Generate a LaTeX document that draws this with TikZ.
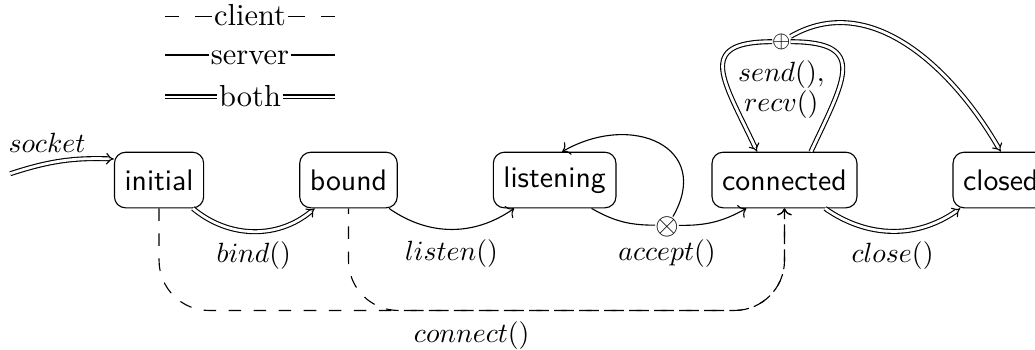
\documentclass[tikz,border=0pt,11pt]{standalone}
\usetikzlibrary{positioning,calc,arrows.meta}
\tikzset{
  state/.style={rectangle,rounded corners=4pt,draw,
                font=\fontsize{10.7}{13}\selectfont\sffamily,
                minimum height=20pt},
  junction/.style={inner sep=0pt,outer sep=0pt},
  lbl/.style={font=\small},
  legtext/.style={inner sep=0.5pt,text height=7pt,text depth=0pt},
  clientarr/.style={dash pattern=on 4.5pt off 4.5pt},
  legclient/.style={dash pattern=on 6pt off 6pt},
  serverarr/.style={},
  botharr/.style={double,double distance=1pt},
  bothto/.style={botharr,-{Implies}}
}
\begin{document}
\begin{tikzpicture}[node distance=1.20cm]
  \useasboundingbox (0,-2.136) rectangle (13.08,2.275);

  % socket states
  \node[state] (initial) at (2.01,0) {initial};
  \node[state,right=of initial] (bound) {bound};
  \node[state,right=of bound] (listening) {listening};
  \node[state,right=of listening] (connected) {connected};
  \node[state,right=of connected] (closed) {closed};

  % junctions
  \node[junction,label={[lbl,label distance=-3pt]below:$accept()$}] (acc)
      at (8.43,-0.59) {$\otimes$};
  \node[junction,font=\scriptsize,above=1.29cm of connected,xshift=-0.04cm,
        label={[lbl,align=center,font={\fontsize{10}{9.7}\selectfont}]below:{$send(),$\\$recv()$}}] (splus)
      {$\oplus$};

  % legend
  \coordinate (legL) at (2.09,0);
  \coordinate (legR) at (4.23,0);
  \node[legtext] (lclient) at (3.16,2.07) {client};
  \node[legtext] (lserver) at (3.16,1.58) {server};
  \node[legtext] (lboth) at (3.16,1.05) {both};
  \draw[legclient] (lclient.west) -- (lclient.west -| legL);
  \draw[legclient] (lclient.east) -- (lclient.east -| legR);
  \draw[serverarr] (lserver.west) -- (lserver.west -| legL);
  \draw[serverarr] (lserver.east) -- (lserver.east -| legR);
  \draw[botharr] (lboth.west) -- (lboth.west -| legL);
  \draw[botharr] (lboth.east) -- (lboth.east -| legR);

  % transitions
  \coordinate (socket) at (0.13,0.08);
  \draw[bothto] (socket) to[bend left=10]
      node[lbl,above,pos=0.35]{$socket$} (initial.155);
  \draw[bothto] (initial) to[bend right=40]
      node[lbl,below]{$bind()$} (bound);
  \draw[serverarr,->] (bound) to[bend right=35]
      node[lbl,below]{$listen()$} (listening);
  \draw[serverarr] (listening) to[bend right=15] (acc);
  \draw[serverarr,->] (acc) to[bend right=15] (connected);
  \draw[serverarr,->] (acc) to[out=60,in=30,looseness=1.6] (listening.75);
  \draw[bothto] (connected) to[bend right=35]
      node[lbl,below]{$close()$} (closed);
  \draw[botharr] (connected.47) to[out=65,in=0,looseness=1.8] (splus);
  \draw[bothto] (splus) to[out=180,in=115,looseness=1.8] (connected.134);
  \draw[bothto] (splus) to[out=30,in=120] (closed.north);

  % connect() runs under the states
  \draw[clientarr,->,rounded corners=18pt] (initial.south) -- ++(0,-1.29)
      -| node[lbl,below,pos=0.25]{$connect()$} (connected.south);
  \draw[clientarr,dash phase=2.5pt,->,rounded corners=18pt] (bound.south)
      -- ++(0,-1.29) -| (connected.south);

\end{tikzpicture}
\end{document}
